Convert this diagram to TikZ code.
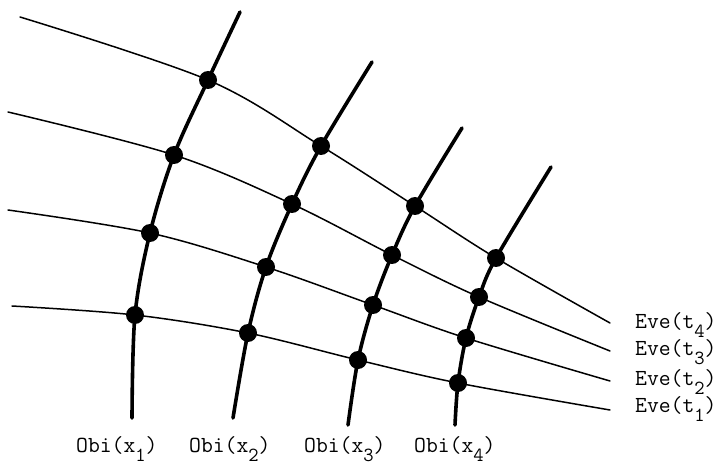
\documentclass[tikz,border=0pt]{standalone}
\usetikzlibrary{positioning}
\tikzset{worldline/.style={line width=3.6pt,line cap=round},
  eventline/.style={line width=1.5pt,line cap=round},
  meet/.style={circle,fill=black,inner sep=0pt,minimum size=18pt},
  tag/.style={font=\ttfamily\fontsize{23}{27}\selectfont,inner sep=0pt,anchor=base west}}
\newcommand{\low}[1]{\raisebox{-9pt}{\fontsize{20}{20}\selectfont #1}}

\begin{document}
\begin{tikzpicture}[x=1pt,y=-1pt]
  \useasboundingbox (0,0) rectangle (725,470);
  % crossings: object i meets event j
  \foreach \i/\j/\px/\py in {1/4/208/80,1/3/174/155,1/2/150/233,1/1/135/315,
    2/4/321/146,2/3/292/204,2/2/266/267,2/1/248/333,
    3/4/415/206,3/3/392/255,3/2/373/305,3/1/358/360,
    4/4/496/258,4/3/479/297,4/2/466/338,4/1/458/383}
    \coordinate (c\i\j) at (\px,\py);
  % free ends of the lines
  \foreach \i/\tx/\ty/\bx/\by in {1/240/12/132/418,2/372/62/233/418,3/462/128/348/425,4/551/167/455/425} {
    \coordinate (top\i) at (\tx,\ty);
    \coordinate (bot\i) at (\bx,\by);
  }
  \foreach \j/\ax/\ay/\ey in {4/20/17/323,3/8/112/351,2/8/210/381,1/12/306/410} {
    \coordinate (beg\j) at (\ax,\ay);
    \coordinate (end\j) at (610,\ey);
  }
  % object lines and event lines
  \foreach \i in {1,...,4}
    \draw[worldline] plot[smooth,tension=0.55] coordinates {(top\i) (c\i4) (c\i3) (c\i2) (c\i1) (bot\i)};
  \foreach \j in {1,...,4}
    \draw[eventline] plot[smooth,tension=0.55] coordinates {(beg\j) (c1\j) (c2\j) (c3\j) (c4\j) (end\j)};
  \foreach \i in {1,...,4}
    \foreach \j in {1,...,4}
      \node[meet] (m\i\j) at (c\i\j) {};
  % labels
  \node[tag] (eve4) at (635,328) {Eve(t\low{4})};
  \node[tag] (eve3) at (635,355) {Eve(t\low{3})};
  \node[tag] (eve2) at (635,385) {Eve(t\low{2})};
  \node[tag] (eve1) at (635,412) {Eve(t\low{1})};
  \node[tag] (obi1) at (76,452) {Obi(x\low{1})};
  \node[tag] (obi2) at (189,452) {Obi(x\low{2})};
  \node[tag] (obi3) at (304,452) {Obi(x\low{3})};
  \node[tag] (obi4) at (414,452) {Obi(x\low{4})};
\end{tikzpicture}
\end{document}
